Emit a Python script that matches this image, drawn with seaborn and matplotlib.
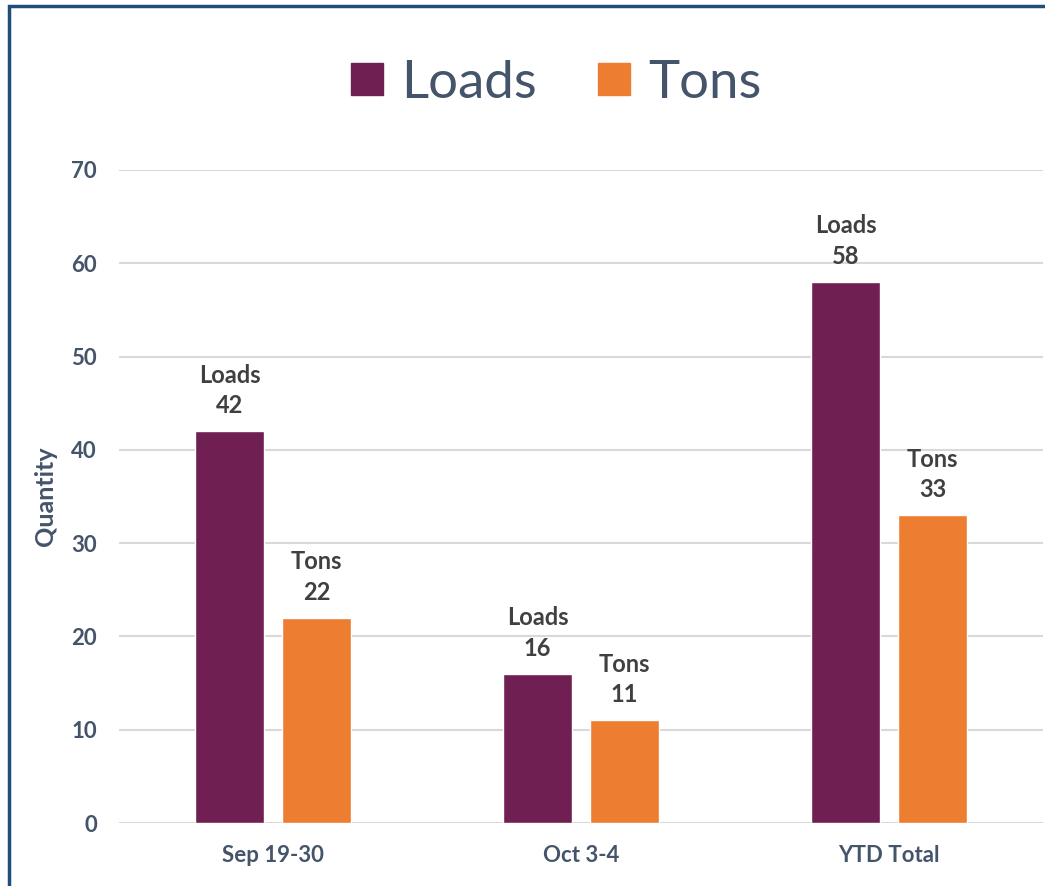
import pandas as pd
import matplotlib.pyplot as plt
import seaborn as sns
from matplotlib.patches import Rectangle
from matplotlib.lines import Line2D

# Data
periods = ['Sep 19-30', 'Oct 3-4', 'YTD Total']
loads = [42, 16, 58]
tons = [22, 11, 33]
series_names = ['Loads', 'Tons']
colors = ['#6F1F52', '#ED7D31']

df = pd.DataFrame({
    'period': periods * 2,
    'value': loads + tons,
    'series': ['Loads'] * len(periods) + ['Tons'] * len(periods),
})

sns.set_style('white')
plt.rcParams['font.family'] = ['Lato', 'DejaVu Sans']

text_col = '#44546A'
label_col = '#404040'

fig = plt.figure(figsize=(10.45, 8.86), dpi=100)
ax = fig.add_axes([119 / 1045, 1 - 823 / 886, (1043 - 119) / 1045, (823 - 170) / 886])

sns.barplot(data=df, x='period', y='value', hue='series', order=periods,
            hue_order=series_names, palette=colors, width=0.565, gap=0.2,
            saturation=1, legend=False, ax=ax)

ax.set_xlim(-0.5, 2.5)
ax.set_ylim(0, 70)
ax.set_yticks(range(0, 71, 10))
ax.grid(axis='y', color='#D9D9D9', linewidth=1.5)
ax.set_axisbelow(True)
for s in ax.spines.values():
    s.set_visible(False)

ax.tick_params(axis='both', length=0, labelsize=16, labelcolor=text_col)
ax.tick_params(axis='y', pad=16)
ax.tick_params(axis='x', pad=16)
for t in ax.get_xticklabels() + ax.get_yticklabels():
    t.set_fontweight('bold')

ax.set_xlabel('')
ax.set_ylabel('Quantity', fontsize=18, fontweight='bold', color=text_col, labelpad=10)

# data labels: series name above value
for cont, name in zip(ax.containers, series_names):
    for bar in cont:
        h = bar.get_height()
        x = bar.get_x() + bar.get_width() / 2
        ax.annotate(f'{name}\n{h:.0f}', (x, h), xytext=(0, 10), textcoords='offset points',
                    ha='center', va='bottom', fontsize=17, fontweight='bold',
                    color=label_col, linespacing=1.4)

# legend at top
handles = [Line2D([0], [0], marker='s', linestyle='', markersize=23,
                  markerfacecolor=c, markeredgecolor=c) for c in colors]
fig.legend(handles, series_names, loc='center', bbox_to_anchor=(0.531, 1 - 83 / 886),
           ncol=2, frameon=False, fontsize=38, labelcolor=text_col,
           handlelength=0.7, handletextpad=0.3, columnspacing=1.1)

# blue chart border (only left and top visible)
fig.patches.append(Rectangle((9 / 1045, -0.1), 1.2, 1.1 - 6 / 886, transform=fig.transFigure,
                             fill=False, edgecolor='#1F4E79', linewidth=2.5))

fig.savefig('out.png', dpi=100, facecolor='white')
